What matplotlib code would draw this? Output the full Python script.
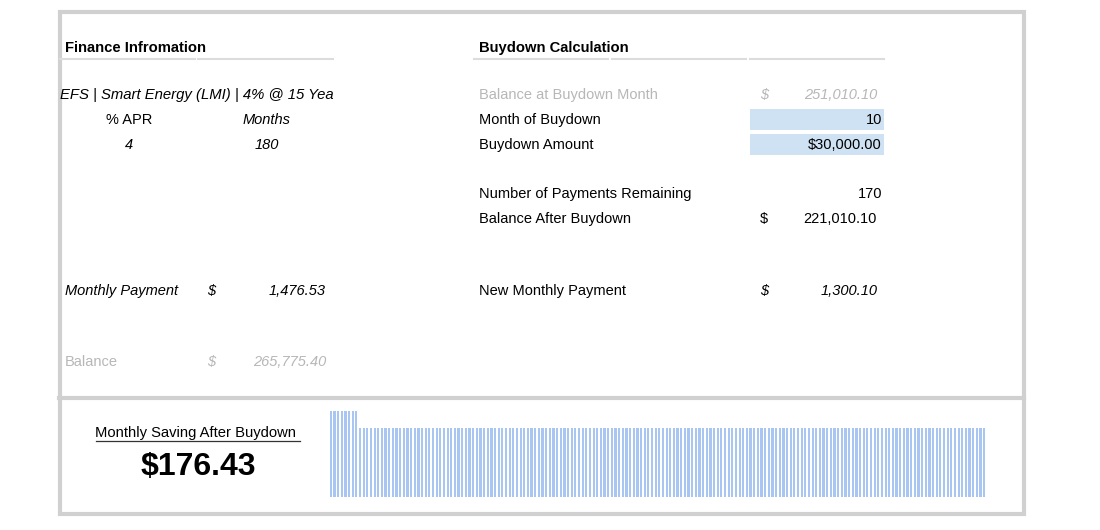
import matplotlib
matplotlib.use("Agg")
import matplotlib.pyplot as plt
from matplotlib.patches import Rectangle

plt.rcParams["font.family"] = ["Liberation Sans", "DejaVu Sans"]

# ---- data ----
loan_name = "EFS | Smart Energy (LMI) | 4% @ 15 Years"
apr_pct = 4
term_months = 180
monthly_payment = 1476.53
balance = 265775.40
balance_at_buydown = 251010.10
buydown_month = 10
buydown_amount = 30000.00
payments_remaining = 170
balance_after = 221010.10
new_payment = 1300.10
monthly_saving = 176.43

# payment per month as drawn in the strip chart
tall_months = 8
payments = [monthly_payment] * tall_months + [new_payment] * (term_months - tall_months)

GRAY = "#b7b7b7"
BORDER = "#d0d0d0"
CELL = "#cfe2f3"
BAR = "#a9c6f2"
FS = 10.5

fig = plt.figure(figsize=(11, 5.3), dpi=100)
ax = fig.add_axes([0, 0, 1, 1])
ax.set_xlim(0, 1100); ax.set_ylim(530, 0); ax.axis("off")

# frame + divider
ax.add_patch(Rectangle((59.5, 11.5), 964, 502, fill=False, ec=BORDER, lw=3))
ax.plot([59, 1024], [398, 398], color=BORDER, lw=3)

# header underlines
for x0, x1 in [(60, 195), (198, 333), (474, 608), (612, 746), (750, 884)]:
    ax.plot([x0, x1], [59, 59], color="#dcdcdc", lw=1.5)

def t(x, y, s, ha="left", **kw):
    kw.setdefault("fontsize", FS)
    return ax.text(x, y + 1, s, ha=ha, va="center", **kw)

# left block
t(65, 47, "Finance Infromation", weight="bold", fontsize=10.6)
efs = t(60, 94, loan_name, style="italic", fontsize=10.7)
efs.set_clip_on(True)
efs.set_clip_path(Rectangle((58, 80), 275, 30, transform=ax.transData))
t(129, 119, "% APR", ha="center")
t(267, 119, "Months", ha="center", style="italic")
t(129, 144, f"{apr_pct}", ha="center", style="italic")
t(267, 144, f"{term_months}", ha="center", style="italic")
t(65, 290, "Monthly Payment", style="italic")
t(207, 290, "$", style="italic")
t(326, 290, f"{monthly_payment:,.2f}", ha="right", style="italic")
t(65, 361, "Balance", color=GRAY)
t(207, 361, "$", style="italic", color=GRAY)
t(326, 361, f"{balance:,.2f}", ha="right", style="italic", color=GRAY)

# right block
t(479, 47, "Buydown Calculation", weight="bold", fontsize=10.6)
t(479, 94, "Balance at Buydown Month", color=GRAY)
t(760, 94, "$", style="italic", color=GRAY)
t(877, 94, f"{balance_at_buydown:,.2f}", ha="right", style="italic", color=GRAY)
ax.add_patch(Rectangle((750, 109), 134, 21, color=CELL, lw=0))
ax.add_patch(Rectangle((750, 134), 134, 21, color=CELL, lw=0))
t(479, 119, "Month of Buydown")
t(882, 119, f"{buydown_month}", ha="right")
t(479, 144, "Buydown Amount")
t(882, 144, f"${buydown_amount:,.2f}", ha="right")
t(479, 193, "Number of Payments Remaining")
t(882, 193, f"{payments_remaining}", ha="right")
t(479, 218, "Balance After Buydown")
t(760, 218, "$")
t(877, 218, f"{balance_after:,.2f}", ha="right")
t(479, 290, "New Monthly Payment")
t(760, 290, "$", style="italic")
t(878, 290, f"{new_payment:,.2f}", ha="right", style="italic")

# saving summary
t(198, 432, "Monthly Saving After Buydown ", ha="center", fontsize=10.6)
ax.plot([96, 300], [441, 441], color="#333333", lw=0.9)
t(198, 466, f"${monthly_saving:,.2f}", ha="center", weight="bold", fontsize=23)

# strip chart of monthly payments
bx = fig.add_axes([329 / 1100, (530 - 497) / 530, 657 / 1100, 86 / 530])
bx.bar(range(1, len(payments) + 1), payments, width=0.6, color=BAR, lw=0)
bx.set_xlim(0.5, len(payments) + 0.5)
bx.set_ylim(584, monthly_payment)
bx.axis("off")

fig.savefig("out.png", dpi=100)
